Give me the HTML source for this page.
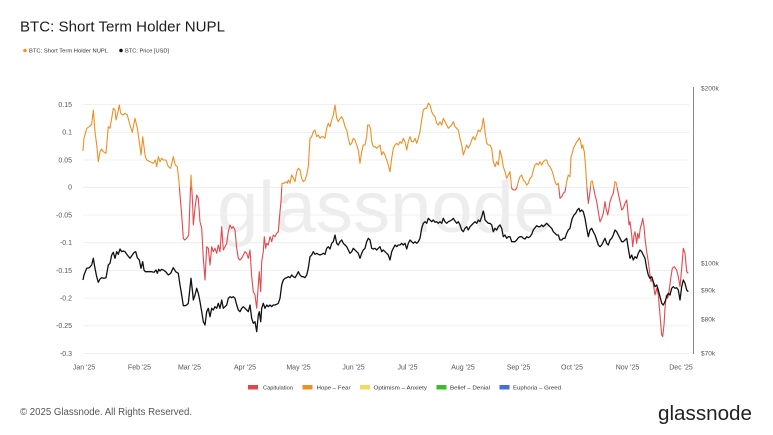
<!DOCTYPE html>
<html><head><meta charset="utf-8"><style>
html,body{margin:0;padding:0;background:#fff;}
svg{display:block;}
text{font-family:"Liberation Sans",Arial,sans-serif;}
</style></head><body>
<svg width="773" height="435" viewBox="0 0 773 435" xmlns="http://www.w3.org/2000/svg">
<rect width="773" height="435" fill="#fff"/>
<text x="20" y="31.5" font-size="15" fill="#1e1e1e" textLength="205" lengthAdjust="spacingAndGlyphs">BTC: Short Term Holder NUPL</text>
<circle cx="25" cy="50.5" r="1.8" fill="#f0962a"/>
<text x="29" y="52.5" font-size="5.6" fill="#333" textLength="79" lengthAdjust="spacingAndGlyphs">BTC: Short Term Holder NUPL</text>
<circle cx="121" cy="50.5" r="1.8" fill="#111"/>
<text x="125" y="52.5" font-size="5.6" fill="#333" textLength="44" lengthAdjust="spacingAndGlyphs">BTC: Price [USD]</text>

<text x="217" y="232" font-size="72" fill="#ededed" textLength="338" lengthAdjust="spacingAndGlyphs">glassnode</text>

<g stroke="#ececec" stroke-width="0.8">
<line x1="83" y1="104.6" x2="689" y2="104.6"/>
<line x1="83" y1="132.3" x2="689" y2="132.3"/>
<line x1="83" y1="160" x2="689" y2="160"/>
<line x1="83" y1="187.3" x2="689" y2="187.3"/>
<line x1="83" y1="215" x2="689" y2="215"/>
<line x1="83" y1="242.7" x2="689" y2="242.7"/>
<line x1="83" y1="270.4" x2="689" y2="270.4"/>
<line x1="83" y1="298.1" x2="689" y2="298.1"/>
<line x1="83" y1="325.8" x2="689" y2="325.8"/>
<line x1="83" y1="353.6" x2="689" y2="353.6"/>
</g>
<g font-size="7" fill="#555" text-anchor="end">
<text x="72" y="107">0.15</text>
<text x="72" y="134.7">0.1</text>
<text x="72" y="162.4">0.05</text>
<text x="72" y="189.7">0</text>
<text x="72" y="217.4">-0.05</text>
<text x="72" y="245.1">-0.1</text>
<text x="72" y="272.8">-0.15</text>
<text x="72" y="300.5">-0.2</text>
<text x="72" y="328.2">-0.25</text>
<text x="72" y="356">-0.3</text>
</g>
<g font-size="7" fill="#555" text-anchor="middle">
<text x="84" y="369.5">Jan '25</text>
<text x="139.5" y="369.5">Feb '25</text>
<text x="189.5" y="369.5">Mar '25</text>
<text x="245" y="369.5">Apr '25</text>
<text x="298.5" y="369.5">May '25</text>
<text x="353.5" y="369.5">Jun '25</text>
<text x="407.5" y="369.5">Jul '25</text>
<text x="463" y="369.5">Aug '25</text>
<text x="518.5" y="369.5">Sep '25</text>
<text x="572" y="369.5">Oct '25</text>
<text x="627.5" y="369.5">Nov '25</text>
<text x="681" y="369.5">Dec '25</text>
</g>
<line x1="693.5" y1="87" x2="693.5" y2="354" stroke="#8a8a8a" stroke-width="1"/>
<g font-size="6.5" fill="#555">
<text x="701" y="90.5">$200k</text>
<text x="701" y="265.5">$100k</text>
<text x="701" y="292.5">$90k</text>
<text x="701" y="321.5">$80k</text>
<text x="701" y="355.5">$70k</text>
</g>

<defs>
<clipPath id="pos"><rect x="0" y="0" width="773" height="187.3"/></clipPath>
<clipPath id="neg"><rect x="0" y="187.3" width="773" height="250"/></clipPath>
<polyline id="nupl" fill="none" stroke-width="1.1" stroke-linejoin="round" points="83,151 84,138.3 86.7,128.3 89.3,126.7 91.7,124.3 93.3,110 95,131.7 96.7,145 98.3,161.7 100,151.7 101.7,149 103.3,151.7 106,153.3 108.3,126.7 110,128.3 111.7,118.3 113.3,108.3 115,110 116,120 117.3,115 119.3,105 120.7,113.3 122.7,115 125,113.3 127.3,115 130,125 132.3,132.3 135,118.3 137.3,128.3 139.3,141.7 141,155 142.7,136.7 144,146.7 145.3,156.7 146.7,160 150,161.7 153.3,163.3 155.3,160 156.7,166.7 158.3,156.7 160,161.7 161.7,158.3 163.3,160 166,160 168.3,166.7 170.7,168.3 173.3,156.7 175.3,165 177.3,166.7 179,181.7 180,195 181.7,215 183.3,238.3 184.7,240 186.7,238.3 188.7,235 191,175 192.7,205 193.3,225 195,208.3 196.7,195 198.3,198.3 200,221.7 201.7,228.3 203.3,258.3 205,280 206.7,246.7 208.3,248.3 210,265 211.7,246.7 213.3,251.7 215,248.3 216.7,253.3 218.3,245 220,251.7 221.7,226.7 223.3,250 225,246.7 226.7,243.3 228.3,231.7 230,225 231.7,228.3 233.3,226.7 235,230 236.7,248.3 238.3,258.3 240,260 241.7,258.3 243.3,255 245,251.7 246.7,253.3 248.3,258.3 250,250 251.7,276.7 253.3,291.7 255,295 256.7,308.3 258.3,285 259.3,271.7 260.7,291.7 261.7,261.7 263.3,251.7 264.3,236.7 265.7,248.3 266.7,243.3 268.3,245 270,236.7 271.7,241.7 273.3,235 275,236.7 276.7,233.3 278.3,231.7 280,211.7 281,201.7 282,183.3 284,183.3 286,181.7 287.3,183.3 288.3,180 290,183.3 291.7,175 293.3,178.3 295,181.7 296.7,171.7 298.3,168.3 300,170 301.7,178.3 303.3,181.7 305,180 306.7,175 308.3,166.7 310,138.3 311.7,136.7 313.3,131.7 315,130 316.7,136.7 318.3,135 320,138.3 321.7,136.7 323.3,136.7 325,138.3 326.7,128.3 328.3,123.3 330,126.7 331.7,120 333.3,115 335,105 336.7,118.3 338.3,121.7 340,118.3 341.7,116.7 343.3,120 345,126.7 346.7,130 348.3,138.3 350,145 351.7,143.3 353.3,138.3 355,140 356.7,145 358.3,150 360,163.3 361.7,151.7 363.3,145 365,145 366.7,136.7 367.7,125 369.3,125 370.7,130 371.7,141.7 373.3,146.7 375,146.7 376.7,148.3 378.3,146.7 380,145 381.7,155 383.3,151.7 385,155 386.7,160 388.3,165 390,171.7 391.7,158.3 393.3,148.3 395,145 396.7,143.3 398.3,145 400,141.7 401.7,143.3 403.3,138.3 405,141.7 406.7,150 408.3,141.7 410,136.7 411.7,141.7 413.3,141.7 415,138.3 416.7,143.3 418.3,138.3 420,131.7 421.7,120 423.3,110 425,108.3 426.7,108.3 428.3,103.3 430,105 431.7,111.7 433.3,115 435,116.7 436.7,123.3 438.3,125 440,121.7 441.7,125 443.3,118.3 445,121.7 446.7,125 448.3,128.3 450,126.7 451.7,125 453.3,121.7 455,126.7 456.7,128.3 458.3,130 460,138.3 461.7,145 463.3,155 465,150 466.7,145 468.3,148.3 470,145 471.7,140 473.3,136.7 475,140 476.7,135 478.3,130 480,131.7 481.7,128.3 483.3,118.3 484.3,125 485,131.7 486.7,143.3 488.3,145 490,145 491.7,148.3 493.3,161.7 495,166.7 496.7,161.7 498.3,165 500,150 501.7,156.7 503.3,166.7 505,171.7 506.7,178.3 508.3,175 510,171.7 511.7,188.3 513.3,190 515,190 516.7,188.3 518.3,181.7 520,176.7 521.7,175 523.3,180 525,181.7 526.7,185 528.3,183.3 530,178.3 531.7,176.7 533.3,170 535,165 536.7,163.3 538.3,165 540,161.7 541.7,165 543.3,161.7 545,160 546.7,160 548.3,165 550,166.7 551.7,170 553.3,175 555,181.7 556.7,185 558.3,183.3 560,198.3 561.7,196.7 563.3,193.3 565,191.7 566.7,181.7 568.3,175 570,176.7 571,156.7 572.3,153.3 573.3,148.3 575,145 576.7,141.7 578.3,140 579.3,137.7 580.7,141.7 581.7,148.3 582.7,145 584.3,151.7 585.7,168.3 586.7,185 588.3,203.3 590,191.7 591,181.7 592.3,181 593.7,188.3 595,195 596.7,201.7 598.3,211.7 600,221.7 601.7,218.3 603.3,213.3 605,201.7 606,208.3 607.7,215 609,208.3 610,201.7 611.7,196.7 613.3,193.3 615,181.7 616,182.3 617.3,188.3 618.3,193.3 620,201.7 621.7,210 623.3,208.3 625,203.3 626.7,200 627.7,210 629,225 630,221.7 631.7,235 632.7,246.7 634,235 635,231.7 636.7,243.3 637.7,233.3 639,238.3 640.3,228.3 641.7,223.3 642.7,218.3 644,226.7 645,238.3 646.7,251.7 648.3,261.7 650,275 651,281.7 652.3,278.3 653.7,286.7 655,295 656.7,288.3 658.3,295 660,315 661.7,335 662.7,336.7 664,325 665,308.3 666.3,295 667.7,298.3 669,291.7 671,276.7 672.3,268.3 674.3,266.7 676.7,270 678.3,276.7 680,286.7 681.7,268.3 683.3,248.3 685,253.3 686.7,271.7 688.3,273.3"/>
</defs>
<use href="#nupl" stroke="#ee8f22" clip-path="url(#pos)"/>
<use href="#nupl" stroke="#e4474c" clip-path="url(#neg)"/>

<polyline fill="none" stroke="#111" stroke-width="1.3" stroke-linejoin="round" points="83,280 84,275 86.7,268.3 89.3,267.7 91.7,265 93.3,258.3 95,268.3 96.7,276.7 98.3,282.3 100,279 101.7,277.7 104,278.3 106,277.7 108.3,265 110,263.3 111.7,255 113.3,252.3 115,258.3 116.7,251.7 118.3,254.3 120,249 121.7,251.7 123.3,251 125,251.7 127.3,255 130,258.3 132.3,255 134.3,252.3 135.7,251.7 137.3,257.7 139.3,260 141,268.3 142.7,261.7 144,270 145.3,271.7 148.3,271.7 151.7,271.7 154,272.3 156,270 157.3,273.3 158.7,269.3 160,271 161.7,269.3 163.3,270 165.7,271.7 168.3,275 170.7,273.3 173.3,267.7 175.7,271.7 178.3,273.3 180,285 181.7,295 183.3,305.7 185,305.7 186.7,305 188.3,303.3 191,278.3 192.7,293.3 193.3,300 195,295 196.7,288.3 198.3,293.3 200,301.7 201.7,311.7 203.3,321.7 205,325 206.7,311.7 208.3,308.3 210,316.7 211.7,308.3 213.3,310 215,306.7 216.7,308.3 218.3,303.3 220,308.3 221.7,300 223.3,308.3 225,306.7 226.7,305 228.3,298.3 230,296.7 231.7,297.7 233.3,296.7 235,298.3 236.7,305 238.3,310 240,311.7 241.7,308.3 243.3,306.7 245,308.3 246.7,310 248.3,311.7 250,305 251.7,318.3 253.3,323.3 255,321.7 256.7,331.7 258.3,315 259.3,311.7 260.7,321.7 261.7,308.3 263.3,303.3 265,308.3 266.7,305 268.3,306.7 270,305 271.7,306.7 273.3,305 275,305 276.7,304.3 278.3,303.3 280,298.3 281.7,285 283.3,280 285,278.3 286.7,277.7 288.3,276.7 290,277.7 291.7,275 293.3,276.7 295,277.7 296.7,275 298.3,271.7 300,275 301.7,276.7 303.3,276.7 305,277.7 306.7,275 308.3,268.3 310,256.7 311.7,255 313.3,251.7 315,254.3 316.7,253.3 318.3,254.3 320,255 321.7,254.3 323.3,253.3 325,254.3 326.7,248.3 328.3,246.7 330,249 331.7,243.3 333.3,241.7 335,235 336.7,243.3 338.3,245 340,241.7 341.7,240 343.3,243.3 345,245 346.7,246.7 348.3,250 350,253.3 351.7,251.7 353.3,248.3 355,250 356.7,251.7 358.3,253.3 360,258.3 361.7,253.3 363.3,250 365,248.3 366.7,241.7 368.3,238.3 370,240 371.7,248.3 373.3,249 375,248.3 376.7,250 378.3,248.3 380,246.7 381.7,251.7 383.3,250 385,251.7 386.7,253.3 388.3,255 390,260 391.7,251.7 393.3,248.3 395,245 396.7,246.7 398.3,245 400,245 401.7,243.3 403.3,245 405,243.3 406.7,249 408.3,243.3 410,240 411.7,241.7 413.3,243.3 415,241.7 416.7,243.3 418.3,241.7 420,238.3 421.7,228.3 423.3,223.3 425,221.7 426.7,223.3 428.3,218.3 430,220 431.7,221.7 433.3,220 435,222.3 436.7,221.7 438.3,223.3 440,221.7 441.7,223.3 443.3,218.3 445,221.7 446.7,223.3 448.3,221.7 450,221 451.7,220 453.3,218.3 455,221 456.7,223.3 458.3,221.7 460,225 461.7,230 463.3,231.7 465,228.3 466.7,226.7 468.3,230 470,226.7 471.7,225 473.3,223.3 475,221.7 476.7,223.3 478.3,220 480,221.7 481.7,216.7 483.3,211 484.3,215 485,220 486.7,221.7 488.3,223.3 490,223.3 491.7,225 493.3,231.7 495,228.3 496.7,230 498.3,226.7 500,225 501.7,228.3 503.3,236.7 505,235 506.7,238.3 508.3,236.7 510,236.7 511.7,241.7 513.3,241.7 515,241.7 516.7,240 518.3,237.7 520,236.7 521.7,236.7 523.3,238.3 525,239 526.7,236.7 528.3,237.7 530,236.7 531.7,234.3 533.3,230 535,227.7 536.7,225.7 538.3,226.7 540,226.7 541.7,225 543.3,226.7 545,225 546.7,223.3 548.3,225 550,226.7 551.7,228.3 553.3,231.7 555,233.3 556.7,235 558.3,235 560,240 561.7,240 563.3,238.3 565,238.3 566.7,233.3 568.3,230 570,228.3 571,223.3 572.3,218.3 574,215 575.7,213.3 577.3,210 579,208.3 580,211.7 581.7,210 583.3,211.7 585,218.3 586.7,228.3 588.3,236.7 590,230 591.7,228.3 593.3,231.7 595,235 596.7,240 598.3,245 600,246.7 601.7,245 603.3,241.7 605,238.3 606.7,243.3 608.3,245 610,240 611.7,238.3 613.3,235 615,230 616.7,231.7 618.3,235 620,238.3 621.7,241.7 623.3,241.7 625,240 626.7,238.3 628.3,248.3 630,258.3 631.7,255 633.3,260 635,256.7 636.7,258.3 638.3,253.3 640,250 641.7,251.7 643.3,255 645,258.3 646.7,268.3 648.3,275 650,278.3 651.7,276.7 653.3,281.7 655,286.7 656.7,285 658.3,290 660,296.7 661.7,303.3 663.3,305 665,301.7 666.7,296.7 668.3,293.3 670,295 671.7,288.3 673.3,286.7 675,288.3 676.7,287.7 678.3,290 680,300 681.7,286.7 683.3,280 685,283.3 686.7,290 688.3,291.7"/>

<g font-size="5.6" fill="#333">
<rect x="248" y="385" width="10" height="4.5" fill="#e0474c"/>
<text x="263" y="389.3" textLength="30" lengthAdjust="spacingAndGlyphs">Capitulation</text>
<rect x="302.5" y="385" width="10" height="4.5" fill="#ee8f26"/>
<text x="316.5" y="389.3" textLength="34" lengthAdjust="spacingAndGlyphs">Hope – Fear</text>
<rect x="360" y="385" width="10" height="4.5" fill="#f2da5c"/>
<text x="373.5" y="389.3" textLength="53.5" lengthAdjust="spacingAndGlyphs">Optimism – Anxiety</text>
<rect x="436.5" y="385" width="10" height="4.5" fill="#3dba2e"/>
<text x="450" y="389.3" textLength="40" lengthAdjust="spacingAndGlyphs">Belief – Denial</text>
<rect x="499.5" y="385" width="10" height="4.5" fill="#4a6ddc"/>
<text x="513" y="389.3" textLength="48" lengthAdjust="spacingAndGlyphs">Euphoria – Greed</text>
</g>

<text x="20" y="415" font-size="10" fill="#555" textLength="172" lengthAdjust="spacingAndGlyphs">© 2025 Glassnode. All Rights Reserved.</text>
<text x="658" y="420" font-size="20.5" fill="#222" textLength="94" lengthAdjust="spacingAndGlyphs">glassnode</text>
</svg>
</body></html>
